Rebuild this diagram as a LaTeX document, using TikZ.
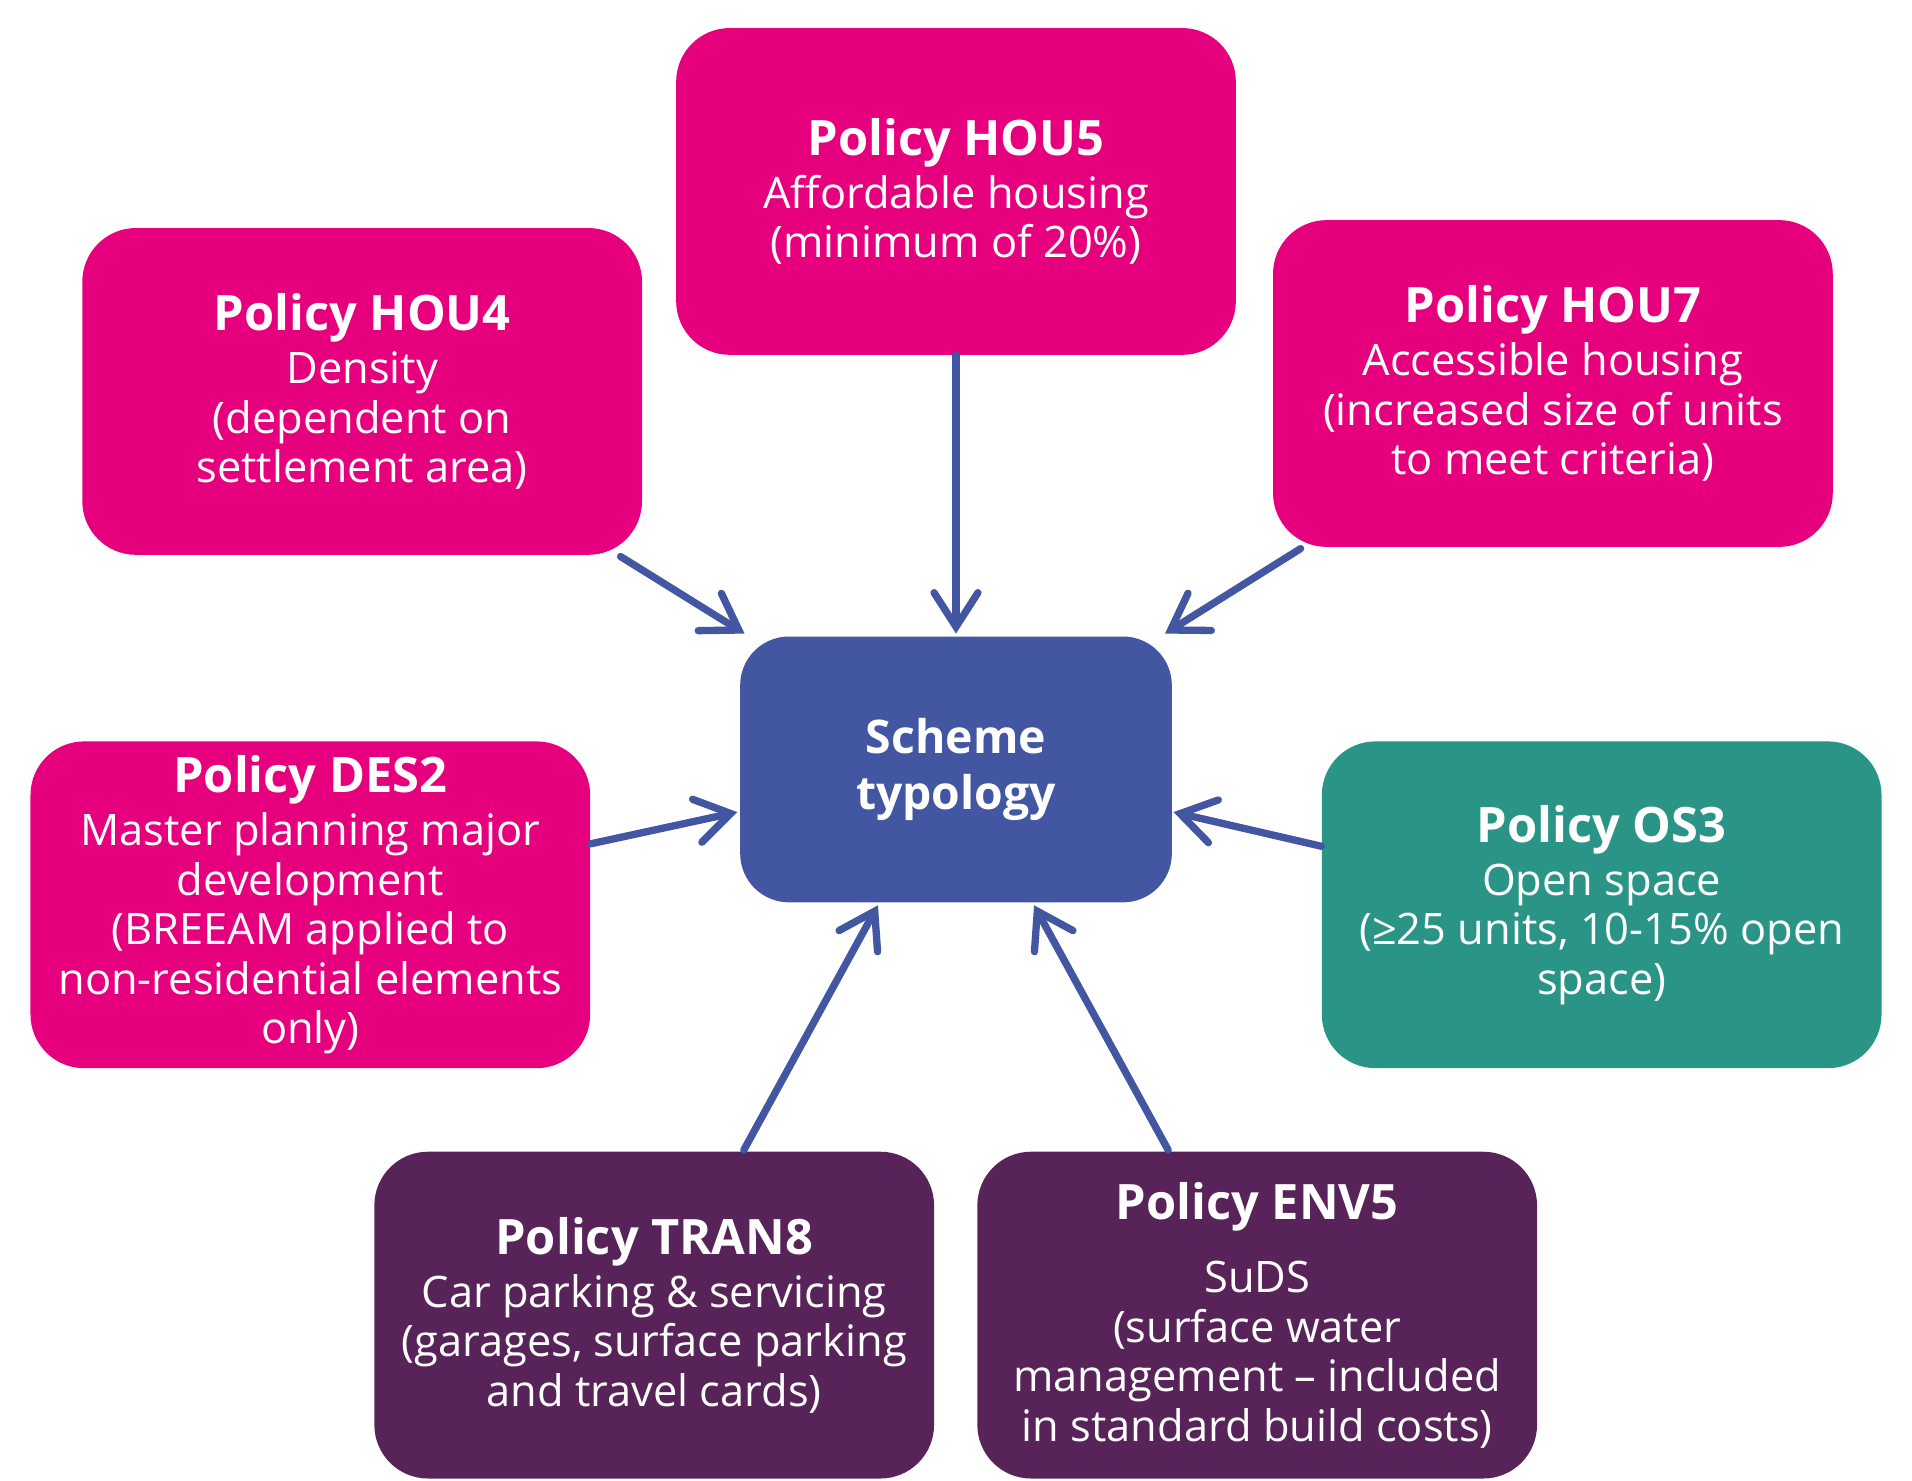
\documentclass[tikz,border=0pt]{standalone}
\usepackage{fontspec}
\setmainfont{Open Sans}
\usetikzlibrary{arrows.meta,calc}
\definecolor{cpink}{HTML}{E6007E}
\definecolor{cblue}{HTML}{4256A2}
\definecolor{cteal}{HTML}{2A9486}
\definecolor{cplum}{HTML}{572358}
\newcommand{\ttl}[1]{{\fontsize{20}{20.3}\selectfont\bfseries #1}}
\tikzset{
  pbox/.style={rounded corners=22pt, minimum width=229.5pt, minimum height=134pt,
    inner sep=0pt, text=white, align=center, font=\fontsize{17.8}{20.3}\selectfont},
  sbox/.style={rounded corners=20pt, fill=cblue, minimum width=177pt, minimum height=109pt,
    inner sep=0pt, text=white, align=center, font=\fontsize{19}{20.3}\selectfont\bfseries},
  arr/.style={draw=cblue, line width=3pt, line cap=round,
    -{Straight Barb[length=14pt,width=18pt,line cap=round]}}
}
\begin{document}
\begin{tikzpicture}[x=0.5pt,y=-0.5pt]
\useasboundingbox (0,0) rectangle (1568,1214);
\node[pbox, fill=cpink] (hou5) at (784,157) {\ttl{Policy HOU5}\\[1.5pt]Affordable housing\\(minimum of 20\%)};
\node[pbox, fill=cpink] (hou4) at (297,321) {\ttl{Policy HOU4}\\[1.5pt]Density\\(dependent on\\settlement area)};
\node[pbox, fill=cpink] (hou7) at (1273.5,314.5) {\ttl{Policy HOU7}\\[1.5pt]Accessible housing\\(increased size of units\\to meet criteria)};
\node[sbox] (scheme) at (784,631) {Scheme\\[3pt]typology};
\node[pbox, fill=cpink] (des2) at (254.5,742) {\ttl{Policy DES2}\\[1.5pt]Master planning major\\development\\(BREEAM applied to\\non-residential elements\\only)};
\node[pbox, fill=cteal] (os3) at (1313.5,742) {\ttl{Policy OS3}\\[1.5pt]Open space\\(≥25 units, 10-15\% open\\space)};
\node[pbox, fill=cplum] (tran8) at (536.5,1078.5) {\ttl{Policy TRAN8}\\[1.5pt]Car parking \& servicing\\(garages, surface parking\\and travel cards)};
\node[pbox, fill=cplum] (env5) at (1031,1078.5) {\ttl{Policy ENV5}\\[10pt]SuDS\\(surface water\\management – included\\in standard build costs)};
\draw[arr] (hou5.south) -- ($(scheme.north)+(0,-2)$);
\draw[arr] ($(hou4.south east)+(-18,1)$) -- ($(scheme.north west)+(4,-2)$);
\draw[arr] ($(hou7.south west)+(23,1)$) -- ($(scheme.north east)+(-6,-2)$);
\draw[arr] ($(des2.east)+(0,-50)$) -- ($(scheme.west)+(-2,35)$);
\draw[arr] ($(os3.west)+(0,-48)$) -- ($(scheme.east)+(1,35)$);
\draw[arr] ($(tran8.north)+(73.5,-1)$) -- ($(scheme.south)+(-64,2)$);
\draw[arr] ($(env5.north)+(-73,-1)$) -- ($(scheme.south)+(64,2)$);
\end{tikzpicture}
\end{document}
